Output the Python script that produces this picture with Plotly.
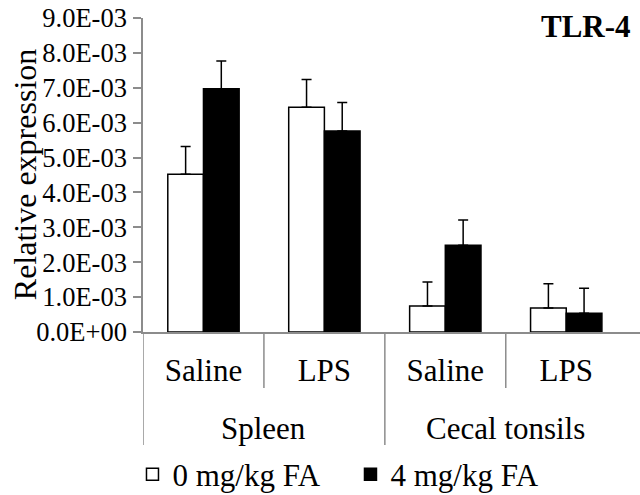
import plotly.graph_objects as go

tissues = ["Spleen", "Cecal tonsils"]
treatments = ["Saline", "LPS", "Saline", "LPS"]
series_names = ["0 mg/kg FA", "4 mg/kg FA"]
fa0_values = [4.52e-3, 6.44e-3, 0.745e-3, 0.69e-3]
fa0_errors = [0.80e-3, 0.80e-3, 0.69e-3, 0.69e-3]
fa4_values = [6.97e-3, 5.76e-3, 2.49e-3, 0.535e-3]
fa4_errors = [0.80e-3, 0.82e-3, 0.72e-3, 0.72e-3]
ytick_values = [0, 1e-3, 2e-3, 3e-3, 4e-3, 5e-3, 6e-3, 7e-3, 8e-3, 9e-3]
ytick_labels = ["0.0E+00", "1.0E-03", "2.0E-03", "3.0E-03", "4.0E-03",
                "5.0E-03", "6.0E-03", "7.0E-03", "8.0E-03", "9.0E-03"]

FONT = "'Liberation Serif', 'Times New Roman', Times, 'DejaVu Serif', serif"
GRAY = "#8c8c8c"
xpos = list(range(len(treatments)))

fig = go.Figure()
fig.add_trace(go.Bar(
    x=xpos, y=fa0_values, name=series_names[0],
    marker=dict(color="white", line=dict(color="black", width=1.5)),
    error_y=dict(type="data", array=fa0_errors, arrayminus=[0] * 4, symmetric=False,
                 color="black", thickness=1.5, width=5),
))
fig.add_trace(go.Bar(
    x=xpos, y=fa4_values, name=series_names[1],
    marker=dict(color="black", line=dict(color="black", width=1.5)),
    error_y=dict(type="data", array=fa4_errors, arrayminus=[0] * 4, symmetric=False,
                 color="black", thickness=1.5, width=5),
))

# separators below the category axis
sep_shapes = []
for xb, y1 in [(-0.5, -0.360), (0.5, -0.178), (1.5, -0.360), (2.5, -0.178)]:
    sep_shapes.append(dict(type="line", xref="x", yref="paper", x0=xb, x1=xb,
                           y0=0, y1=y1, line=dict(color=GRAY, width=1.5)))

annotations = []
for i, t in enumerate(tissues):
    annotations.append(dict(text=t, x=0.5 + 2 * i, xref="x", y=-0.306, yref="paper",
                            xanchor="center", yanchor="middle", showarrow=False,
                            font=dict(family=FONT, size=31, color="black")))
annotations.append(dict(text="<b>TLR-4</b>", x=0.986, xref="paper", y=0.973, yref="paper",
                        xanchor="right", yanchor="middle", showarrow=False,
                        font=dict(family=FONT, size=31, color="black")))
annotations.append(dict(text="Relative expression", x=-0.237, xref="paper", y=0.5, yref="paper",
                        xanchor="center", yanchor="middle", textangle=-90, showarrow=False,
                        font=dict(family=FONT, size=32, color="black")))

fig.update_layout(
    width=640, height=495,
    margin=dict(l=143, r=0, t=18, b=163),
    paper_bgcolor="white", plot_bgcolor="white",
    barmode="group", bargap=0.41, bargroupgap=0,
    font=dict(family=FONT, color="black"),
    shapes=sep_shapes,
    annotations=annotations,
    legend=dict(orientation="h", xref="container", x=0.207, xanchor="left",
                yref="container", y=0.041, yanchor="middle",
                entrywidth=173, entrywidthmode="pixels",
                font=dict(family=FONT, size=31, color="black"), bgcolor="rgba(0,0,0,0)"),
    showlegend=True,
)
fig.update_xaxes(range=[-0.5, 3.61], tickvals=xpos, ticktext=treatments,
                 showline=True, linecolor=GRAY, linewidth=1.5, ticks="",
                 showgrid=False, zeroline=False, ticklabelstandoff=10, automargin=False,
                 tickfont=dict(family=FONT, size=31, color="black"))
fig.update_yaxes(range=[0, 9e-3], tickvals=ytick_values, ticktext=ytick_labels,
                 showline=True, linecolor=GRAY, linewidth=1.5, ticks="outside",
                 ticklen=8, tickcolor=GRAY, tickwidth=1.5, showgrid=False, zeroline=False,
                 ticklabelstandoff=1, automargin=False,
                 tickfont=dict(family=FONT, size=26.5, color="black"))

fig.write_html("out.html", config={"displayModeBar": False},
               post_script="document.body.style.margin='0px';")
